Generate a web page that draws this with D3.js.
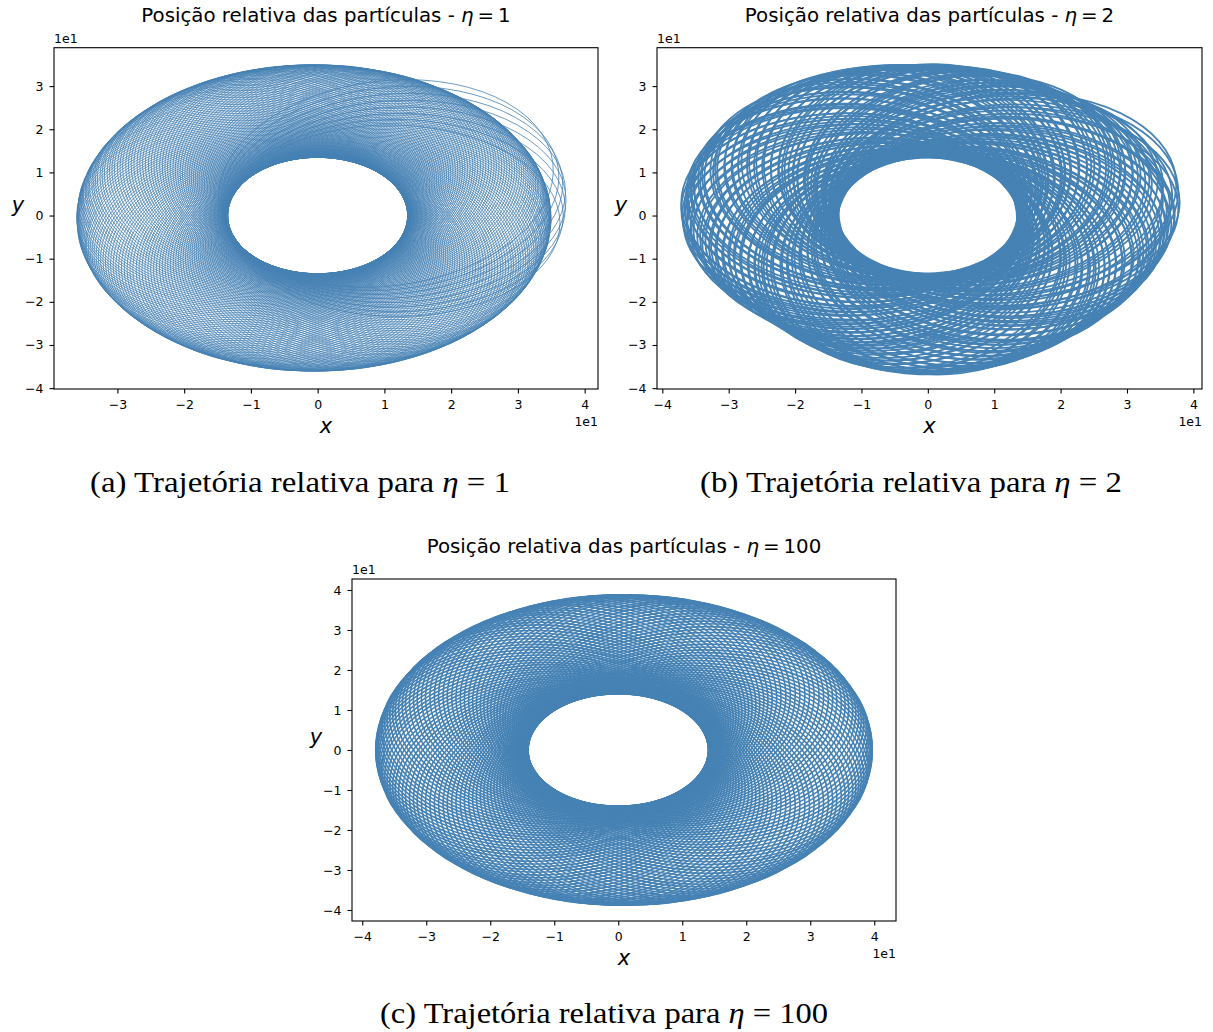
<!DOCTYPE html>
<html>
<head>
<meta charset="utf-8">
<script src="https://cdn.jsdelivr.net/npm/d3@7"></script>
<style>
  body { margin: 0; background: #fff; }
  svg text { font-family: "DejaVu Sans", sans-serif; fill: #000; }
  .caption { font-family: "Liberation Serif", serif; }
</style>
</head>
<body>
<script>
/* TICKS (data units, shown divided by 10 with a "1e1" offset) */
var xTicksA = [-30, -20, -10, 0, 10, 20, 30, 40];
var xTicksBC = [-40, -30, -20, -10, 0, 10, 20, 30, 40];
var yTicksAB = [-40, -30, -20, -10, 0, 10, 20, 30];
var yTicksC = [-40, -30, -20, -10, 0, 10, 20, 30, 40];
var tickLabels = { "-40": "\u22124", "-30": "\u22123", "-20": "\u22122", "-10": "\u22121",
  "0": "0", "10": "1", "20": "2", "30": "3", "40": "4" };

/* AXIS LIMITS */
var xDomainA = [-39.5, 42.0], yDomainA = [-40.2, 38.9];
var xDomainB = [-40.8, 41.3], yDomainB = [-40.2, 38.9];
var xDomainC = [-41.6, 43.4], yDomainC = [-42.75, 42.75];

/* LOOPS: direction of apoapsis (deg) and apoapsis distance of every orbit */
/* eta = 1 */
var periA = 13.5;
var dirA = [0,2,4,6,8,10,12,14,16,18,20,22,24,26,28,
  30,32,34,36,38,40,42,44,46,48,50,52,54,56,58,
  60,62,64,66,68,70,72,74,76,78,80,82,84,86,88,
  90,92,94,96,98,100,102,104,106,108,110,112,114,116,118,
  120,122,124,126,128,130,132,134,136,138,140,142,144,146,148,
  150,152,154,156,158,160,162,164,166,168,170,172,174,176,178,
  180,182,184,186,188,190,192,194,196,198,200,202,204,206,208,
  210,212,214,216,218,220,222,224,226,228,230,232,234,236,238,
  240,242,244,246,248,250,252,254,256,258,260,262,264,266,268,
  270,272,274,276,278,280,282,284,286,288,290,292,294,296,298,
  300,302,304,306,308,310,312,314,316,318,320,322,324,326,328,
  330,332,334,336,338,340,342,344,346,348,350,352,354,356,358];
var apoA = [34.9,34.9,34.9,34.9,34.9,34.8,34.8,34.8,34.8,34.8,34.8,34.8,34.8,34.7,34.7,
  34.7,34.7,34.7,34.7,34.7,34.7,34.7,34.7,34.7,34.7,34.7,34.7,34.7,34.7,34.7,
  34.7,34.7,34.7,34.8,34.8,34.8,34.8,34.8,34.8,34.8,34.8,34.9,34.9,34.9,34.9,
  34.9,35.0,35.0,35.0,35.0,35.0,35.1,35.1,35.1,35.1,35.2,35.2,35.2,35.2,35.3,
  35.3,35.3,35.3,35.4,35.4,35.4,35.5,35.5,35.5,35.5,35.6,35.6,35.6,35.7,35.7,
  35.7,35.7,35.8,35.8,35.8,35.8,35.9,35.9,35.9,35.9,36.0,36.0,36.0,36.0,36.0,
  36.1,36.1,36.1,36.1,36.1,36.2,36.2,36.2,36.2,36.2,36.2,36.2,36.2,36.3,36.3,
  36.3,36.3,36.3,36.3,36.3,36.3,36.3,36.3,36.3,36.3,36.3,36.3,36.3,36.3,36.3,
  36.3,36.3,36.3,36.2,36.2,36.2,36.2,36.2,36.2,36.2,36.2,36.1,36.1,36.1,36.1,
  36.1,36.0,36.0,36.0,36.0,36.0,35.9,35.9,35.9,35.9,35.8,35.8,35.8,35.8,35.7,
  35.7,35.7,35.7,35.6,35.6,35.6,35.5,35.5,35.5,35.5,35.4,35.4,35.4,35.4,35.3,
  35.3,35.3,35.2,35.2,35.2,35.2,35.1,35.1,35.1,35.1,35.0,35.0,35.0,35.0,35.0];
/* the last, wider orbits that stick out on the right */
var lateDirA = [-6, 0, 6, 12, 18, 24, 30, 36];
var lateApoA = [36.4, 36.8, 37.2, 37.6, 38.0, 38.3, 38.6, 38.8];

/* eta = 2 */
var dirB = [0,3,5,8,10,13,15,18,20,23,25,28,30,33,35,38,40,43,45,48,
  50,53,55,58,60,63,65,68,70,73,75,78,80,83,85,88,90,93,95,98,
  100,103,105,108,110,113,115,118,120,123,125,128,130,133,135,138,140,143,145,148,
  150,153,155,158,160,163,165,168,170,173,175,178,180,183,185,188,190,193,195,198,
  200,203,205,208,210,213,215,218,220,223,225,228,230,233,235,238,240,243,245,248,
  250,253,255,258,260,263,265,268,270,273,275,278,280,283,285,288,290,293,295,298,
  300,303,305,308,310,313,315,318,320,323,325,328,330,333,335,338,340,343,345,348,
  350,353,355,358];
var apoB = [37.2,36.0,37.8,36.6,38.2,35.8,37.4,38.6,36.3,38.9,37.0,35.6,36.8,35.2,36.1,34.8,35.6,34.6,35.3,34.4,
  35.0,34.3,35.4,34.6,34.9,34.2,35.1,34.5,34.8,34.1,35.0,34.4,34.9,34.2,34.7,35.1,34.3,34.8,34.5,35.0,
  34.6,35.3,35.0,35.7,35.2,36.0,35.5,36.3,35.8,36.6,35.9,36.8,36.2,37.0,36.4,36.9,36.1,37.3,36.6,37.1,
  36.5,37.2,36.7,36.9,37.3,36.4,37.0,36.6,37.4,36.8,37.2,36.5,37.0,36.3,36.9,35.9,36.5,35.7,36.2,35.5,
  35.2,34.7,35.4,34.4,34.9,34.1,34.6,33.8,34.3,33.6,34.0,33.7,34.2,33.5,33.9,34.4,33.8,34.6,35.0,34.7,
  35.4,35.0,35.8,36.2,35.6,36.5,36.1,36.8,36.3,36.6,36.9,36.2,36.5,35.9,36.3,35.6,36.0,35.4,35.8,35.1,
  35.5,34.9,35.3,35.0,34.8,35.4,35.1,34.7,35.3,34.9,35.2,35.6,35.0,35.4,35.8,35.3,35.9,36.2,35.7,36.4,
  36.0,36.8,36.4,37.1];
/* closest approach also wanders a little for eta = 2 */
var periB = [13.6,13.9,13.4,14.1,13.7,14.3,13.5,13.8,14.2,13.6,13.9,13.4,14.0,13.7,14.4,13.5,13.8,14.1,13.6,13.9,
  13.4,14.2,13.7,14.0,13.5,13.8,14.3,13.6,13.9,13.4,14.1,13.7,14.0,13.5,13.8,14.2,13.6,13.9,13.4,14.0,
  13.7,14.3,13.5,13.8,14.1,13.6,13.9,13.4,14.2,13.7,14.0,13.5,13.8,14.4,13.6,13.9,13.4,14.1,13.7,14.0,
  13.5,13.8,14.2,13.6,13.9,13.4,14.0,13.7,14.3,13.5,13.8,14.1,13.6,13.9,13.4,14.2,13.7,14.0,13.5,13.8,
  14.3,13.6,13.9,13.4,14.1,13.7,14.0,13.5,13.8,14.2,13.6,13.9,13.4,14.0,13.7,14.4,13.5,13.8,14.1,13.6,
  13.9,13.4,14.2,13.7,14.0,13.5,13.8,14.3,13.6,13.9,13.4,14.1,13.7,14.0,13.5,13.8,14.2,13.6,13.9,13.4,
  14.0,13.7,14.3,13.5,13.8,14.1,13.6,13.9,13.4,14.2,13.7,14.0,13.5,13.8,14.4,13.6,13.9,13.4,14.1,13.7,
  14.0,13.5,13.8,14.2];

/* eta = 100 */
var periC = 14.1;
var dirC = [0,3,6,9,12,15,18,21,24,27,30,33,36,39,42,45,48,51,54,57,
  60,63,66,69,72,75,78,81,84,87,90,93,96,99,102,105,108,111,114,117,
  120,123,126,129,132,135,138,141,144,147,150,153,156,159,162,165,168,171,174,177,
  180,183,186,189,192,195,198,201,204,207,210,213,216,219,222,225,228,231,234,237,
  240,243,246,249,252,255,258,261,264,267,270,273,276,279,282,285,288,291,294,297,
  300,303,306,309,312,315,318,321,324,327,330,333,336,339,342,345,348,351,354,357];
var apoC = [39.7,39.7,39.7,39.7,39.7,39.7,39.7,39.6,39.6,39.6,39.6,39.6,39.5,39.5,39.5,39.4,39.4,39.4,39.3,39.3,
  39.2,39.2,39.2,39.1,39.1,39.0,39.0,38.9,38.9,38.8,38.8,38.8,38.7,38.7,38.6,38.6,38.5,38.5,38.4,38.4,
  38.4,38.3,38.3,38.2,38.2,38.2,38.1,38.1,38.1,38.0,38.0,38.0,38.0,38.0,37.9,37.9,37.9,37.9,37.9,37.9,
  37.9,37.9,37.9,37.9,37.9,37.9,37.9,38.0,38.0,38.0,38.0,38.0,38.1,38.1,38.1,38.2,38.2,38.2,38.3,38.3,
  38.4,38.4,38.4,38.5,38.5,38.6,38.6,38.7,38.7,38.8,38.8,38.8,38.9,38.9,39.0,39.0,39.1,39.1,39.2,39.2,
  39.2,39.3,39.3,39.4,39.4,39.4,39.5,39.5,39.5,39.6,39.6,39.6,39.6,39.6,39.7,39.7,39.7,39.7,39.7,39.7];

/* PANEL LAYOUT (pixels) */
var panels = [
  { left: 54, right: 598, top: 47.7, bottom: 389, xDomain: xDomainA, yDomain: yDomainA,
    xTicks: xTicksA, yTicks: yTicksAB, dirs: dirA.concat(lateDirA), apos: apoA.concat(lateApoA),
    peris: periA, stroke: 0.8, eta: "1", tag: "(a)", capX: 300, capY: 492, capLen: 420 },
  { left: 657, right: 1202, top: 47.7, bottom: 389, xDomain: xDomainB, yDomain: yDomainB,
    xTicks: xTicksBC, yTicks: yTicksAB, dirs: dirB, apos: apoB,
    peris: periB, stroke: 1.8, eta: "2", tag: "(b)", capX: 911, capY: 492, capLen: 422 },
  { left: 352, right: 896, top: 579, bottom: 921, xDomain: xDomainC, yDomain: yDomainC,
    xTicks: xTicksBC, yTicks: yTicksC, dirs: dirC, apos: apoC,
    peris: periC, stroke: 1.6, eta: "100", tag: "(c)", capX: 604, capY: 1023, capLen: 448 }
];

var svg = d3.select("body").append("svg")
  .attr("width", 1213)
  .attr("height", 1032);

/* draws one subplot */
function drawPanel(p, idx) {
  var x = d3.scaleLinear().domain(p.xDomain).range([p.left, p.right]);
  var y = d3.scaleLinear().domain(p.yDomain).range([p.bottom, p.top]);
  var kx = x(1) - x(0), ky = y(0) - y(1);
  var g = svg.append("g");

  /* clip to the axes box */
  svg.append("clipPath").attr("id", "clip" + idx)
    .append("rect")
    .attr("x", p.left).attr("y", p.top)
    .attr("width", p.right - p.left).attr("height", p.bottom - p.top);

  var loops = p.dirs.map(function(d, i) {
    var peri = Array.isArray(p.peris) ? p.peris[i] : p.peris;
    return { dir: d, apo: p.apos[i], peri: peri };
  });

  /* every orbit is an ellipse with one focus at the origin */
  g.append("g")
    .attr("clip-path", "url(#clip" + idx + ")")
    .selectAll("ellipse")
    .data(loops)
    .join("ellipse")
    .attr("transform", function(d) {
      return "translate(" + x(0) + "," + y(0) + ") scale(" + kx + "," + (-ky) + ") rotate(" + d.dir + ")";
    })
    .attr("cx", function(d) { return (d.apo - d.peri) / 2; })
    .attr("cy", 0)
    .attr("rx", function(d) { return (d.apo + d.peri) / 2; })
    .attr("ry", function(d) { return Math.sqrt(d.apo * d.peri); })
    .attr("fill", "none")
    .attr("stroke", "steelblue")
    .attr("stroke-width", p.stroke)
    .attr("vector-effect", "non-scaling-stroke");

  /* axes */
  var fmt = function(d) { return tickLabels[String(d)]; };
  var xAxis = g.append("g")
    .attr("transform", "translate(0," + p.bottom + ")")
    .call(d3.axisBottom(x).tickValues(p.xTicks).tickSize(4.5).tickPadding(6.5).tickFormat(fmt));
  var yAxis = g.append("g")
    .attr("transform", "translate(" + p.left + ",0)")
    .call(d3.axisLeft(y).tickValues(p.yTicks).tickSize(4.5).tickPadding(6).tickFormat(fmt));
  [xAxis, yAxis].forEach(function(a) {
    a.attr("font-family", "DejaVu Sans").attr("font-size", 12.5);
    a.select(".domain").remove();
    a.selectAll(".tick line").attr("stroke", "#000").attr("stroke-width", 1.1);
    a.selectAll(".tick text").attr("fill", "#000");
  });

  /* frame */
  g.append("rect")
    .attr("x", p.left).attr("y", p.top)
    .attr("width", p.right - p.left).attr("height", p.bottom - p.top)
    .attr("fill", "none").attr("stroke", "#000").attr("stroke-width", 1.1);

  /* offset texts */
  g.append("text").attr("x", p.left).attr("y", p.top - 5)
    .style("font-size", "12.5px").text("1e1");
  g.append("text").attr("x", p.right).attr("y", p.bottom + 37)
    .attr("text-anchor", "end").style("font-size", "12.5px").text("1e1");

  /* axis labels */
  var cx = (p.left + p.right) / 2, cy = (p.top + p.bottom) / 2;
  g.append("text").attr("x", cx).attr("y", p.bottom + 44)
    .attr("text-anchor", "middle").style("font-size", "21px").style("font-style", "italic").text("x");
  g.append("text").attr("x", p.left - 36).attr("y", cy - 6)
    .attr("text-anchor", "middle").style("font-size", "21px").style("font-style", "italic").text("y");

  /* title */
  var t = g.append("text").attr("x", cx).attr("y", p.top - 26)
    .attr("text-anchor", "middle").style("font-size", "19.8px");
  t.append("tspan").text("Posição relativa das partículas - ");
  t.append("tspan").style("font-style", "italic").text("η");
  t.append("tspan").text("\u2009=\u2009" + p.eta);

  /* caption under the subplot */
  var c = svg.append("text").attr("class", "caption")
    .attr("x", p.capX).attr("y", p.capY)
    .attr("text-anchor", "middle").style("font-size", "30px")
    .attr("textLength", p.capLen).attr("lengthAdjust", "spacingAndGlyphs");
  c.append("tspan").text(p.tag + " Trajetória relativa para ");
  c.append("tspan").style("font-style", "italic").text("η");
  c.append("tspan").text(" = " + p.eta);
}

panels.forEach(drawPanel);
</script>
</body>
</html>
